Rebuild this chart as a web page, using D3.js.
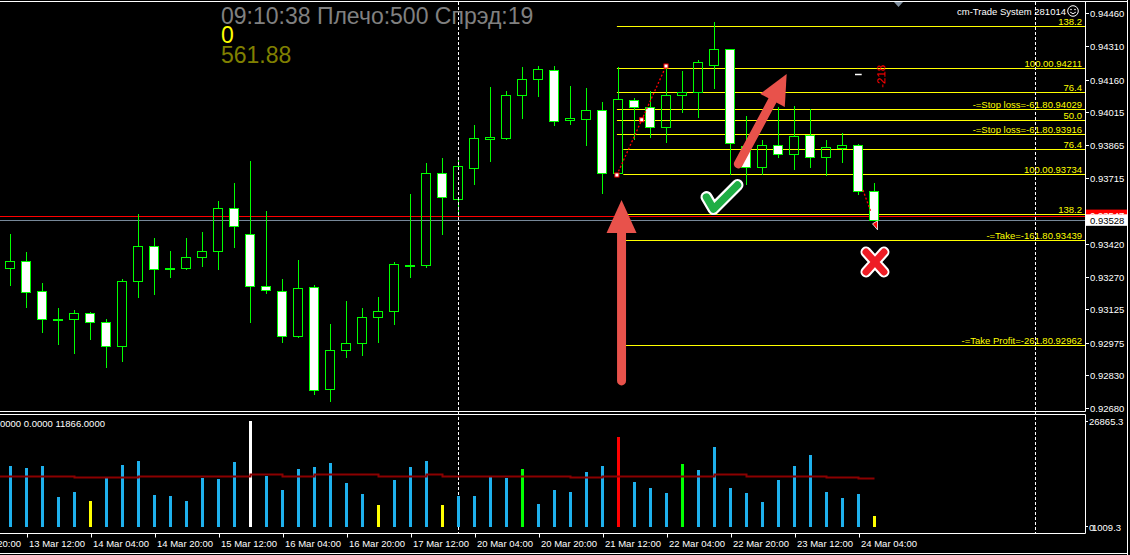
<!DOCTYPE html>
<html><head><meta charset="utf-8">
<script src="https://cdn.jsdelivr.net/npm/d3@7"></script>
<style>
html,body{margin:0;padding:0;background:#000;overflow:hidden}
svg{display:block}
text{font-family:"Liberation Sans",Arial,sans-serif}
</style>
</head><body>
<svg id="c" width="1130" height="555"></svg>
<script>
// ---------------- DATA ----------------
const opens = [0.93310,0.93341,0.93206,0.93079,0.93080,0.93107,0.93066,0.92958,0.93251,0.93409,
0.93310,0.93310,0.93359,0.93386,0.93580,0.93463,0.93229,0.93206,0.93006,0.93224,
0.92764,0.92940,0.92975,0.93089,0.93115,0.93325,0.93326,0.93738,0.93623,0.93763,
0.93891,0.93898,0.94089,0.94161,0.94202,0.93977,0.93984,0.94022,0.93738,0.94067,
0.94035,0.93945,0.94089,0.94103,0.94224,0.94296,0.93862,0.93767,0.93864,0.93823,
0.93909,0.93810,0.93850,0.93864,0.93657];
const highs = [0.93464,0.93383,0.93243,0.93131,0.93122,0.93111,0.93081,0.93260,0.93554,0.93446,
0.93388,0.93446,0.93473,0.93613,0.93694,0.93793,0.93568,0.93261,0.93347,0.93234,
0.93059,0.93162,0.93131,0.93180,0.93338,0.93644,0.93783,0.93807,0.93801,0.93955,
0.94127,0.94109,0.94217,0.94221,0.94221,0.94131,0.94122,0.94058,0.94215,0.94076,
0.94107,0.94221,0.94199,0.94248,0.94419,0.94296,0.93996,0.93888,0.94038,0.94040,
0.94029,0.93888,0.93918,0.93868,0.93694];
const lows = [0.93236,0.93137,0.93024,0.92970,0.92929,0.92992,0.92866,0.92893,0.93182,0.93195,
0.93272,0.93305,0.93321,0.93308,0.93407,0.93069,0.93200,0.92979,0.93001,0.92742,
0.92713,0.92911,0.92918,0.92979,0.93060,0.93272,0.93317,0.93466,0.93551,0.93691,
0.93795,0.93894,0.93988,0.94087,0.93957,0.93961,0.93867,0.93650,0.93727,0.93892,
0.93903,0.93880,0.94015,0.93993,0.94123,0.93733,0.93688,0.93733,0.93813,0.93756,
0.93765,0.93729,0.93790,0.93643,0.93526];
const closes = [0.93341,0.93202,0.93080,0.93078,0.93107,0.93066,0.92958,0.93251,0.93409,0.93305,
0.93310,0.93359,0.93386,0.93580,0.93499,0.93229,0.93211,0.93003,0.93220,0.92761,
0.92940,0.92975,0.93089,0.93115,0.93328,0.93326,0.93738,0.93630,0.93769,0.93895,
0.93900,0.94089,0.94161,0.94206,0.93972,0.93986,0.94022,0.93738,0.94071,0.94035,
0.93945,0.94089,0.94103,0.94238,0.94296,0.93873,0.93767,0.93864,0.93823,0.93904,
0.93810,0.93855,0.93864,0.93657,0.93528];

const volumes = [15460,14950,15460,7600,8870,6590,12420,15710,16730,8110,
7860,6590,12420,12170,16470,26865,12930,9380,14700,15210,
16220,11150,8360,5580,11910,15210,16730,5580,7860,7860,
12670,12420,14700,5830,9380,8870,13940,15460,22810,11410,
9880,8620,15970,14450,20280,9880,8620,6340,11910,15460,
18250,8870,7350,8360,2790];
// b = blue, y = yellow, w = white, g = green, r = red
const volumeKinds = "bbbbbybbbbbbbbbwbbbbbbbybbbybbbbgbbbbbrbbbgbbbbbbbbbbby";
const volumeMA = [13000,13000,13000,13000,12750,12750,12750,12750,13000,13000,
13000,13000,13000,13000,13000,13360,13360,13000,13000,13360,
13360,13360,13360,13000,13000,13000,13360,13000,13000,13000,
13000,13000,13000,13000,13000,12750,12750,13000,13000,13000,
13000,13000,13000,13000,13360,13360,13000,13000,13000,13000,
13000,12750,12750,12500,12500];

const priceTicks = [0.94460,0.94310,0.94160,0.94015,0.93865,0.93715,0.93565,0.93420,0.93270,0.93125,0.92975,0.92830,0.92680];
const timeTickIndex = [-3,1,5,9,13,17,21,25,29,33,37,41,45,49,53];
const timeTickLabels = ["12 Mar 20:00","13 Mar 12:00","14 Mar 04:00","14 Mar 20:00","15 Mar 12:00","16 Mar 04:00","16 Mar 20:00","17 Mar 12:00","20 Mar 04:00","20 Mar 20:00","21 Mar 12:00","22 Mar 04:00","22 Mar 20:00","23 Mar 12:00","24 Mar 04:00"];

const fibPrices = [0.94401,0.94211,0.94103,0.94029,0.93977,0.93916,0.93846,0.93734,0.93554,0.93439,0.92962];
const fibLabels = ["138.2","100.00.94211","76.4","-=Stop loss=-61.80.94029","50.0","-=Stop loss=-61.80.93916","76.4","100.00.93734","138.2","-=Take=-161.80.93439","-=Take Profit=-261.80.92962"];
const fibStart = [37.9,37.9,37.9,37.9,37.9,37.9,38.3,38.3,38.3,38.3,38.3];

const askPrice = 0.93547, bidPrice = 0.93528;
const separatorIndex = [28, 64];
const zigzag1 = [[37.9,0.93730],[40.97,0.94221]];
const zigzag2 = [[53.28,0.93662],[53.78,0.93563]];

// ---------------- SETUP ----------------
const svg = d3.select('#c');
svg.append('rect').attr('width',1130).attr('height',555).attr('fill','#000');

const x = d3.scaleLinear().domain([0,54]).range([10.5,874.5]);
const y = d3.scaleLinear().domain([0.92680,0.94460]).range([408,13]);
const yv = d3.scaleLinear().domain([0,26865.3]).range([527,421]);
const snap = v => Math.round(v) + 0.5;
const PR = 1085.5;
const FS = '9.5px';

const main = svg.append('g');
svg.append('clipPath').attr('id','cm').append('rect').attr('x',0).attr('y',2).attr('width',1085).attr('height',409);

// separators (dashed)
separatorIndex.forEach(i=>{
  const xx = snap(x(i));
  svg.append('line').attr('x1',xx).attr('x2',xx).attr('y1',2).attr('y2',533)
    .attr('stroke','#fff').attr('stroke-dasharray','3,2');
});

// fib lines
fibPrices.forEach((p,k)=>{
  const yy = snap(y(p));
  main.append('line').attr('x1',x(fibStart[k])).attr('x2',PR).attr('y1',yy).attr('y2',yy)
    .attr('stroke','#ffff00');
  main.append('text').attr('x',1082).attr('y',yy-2).attr('text-anchor','end')
    .attr('fill','#ffff00').style('font-size',FS).text(fibLabels[k]);
});

// ask / bid lines
[[askPrice,'#ff0000'],[bidPrice,'#778899']].forEach(([p,c])=>{
  const yy = snap(y(p));
  main.append('line').attr('x1',0).attr('x2',PR).attr('y1',yy).attr('y2',yy).attr('stroke',c);
});

// candles
const cg = main.append('g').attr('clip-path','url(#cm)');
opens.forEach((o,i)=>{
  const c = closes[i];
  const cx = x(i);
  const top = snap(y(Math.max(o,c)));
  const bot = snap(y(Math.min(o,c)));
  const hy = snap(y(highs[i])), ly = snap(y(lows[i]));
  if (hy < top) cg.append('line').attr('x1',cx).attr('x2',cx).attr('y1',hy-0.5).attr('y2',top).attr('stroke','#00ff00');
  if (ly > bot) cg.append('line').attr('x1',cx).attr('x2',cx).attr('y1',bot).attr('y2',ly+0.5).attr('stroke','#00ff00');
  const bear = c < o;
  cg.append('rect').attr('x',cx-5).attr('y',top).attr('width',9).attr('height',Math.max(bot-top,1))
    .attr('fill', bear ? '#ffffff' : 'none').attr('stroke','#00ff00');
});

// zigzag dotted lines
[zigzag1, zigzag2].forEach(z=>{
  main.append('path').attr('d', d3.line().x(d=>x(d[0])).y(d=>y(d[1]))(z))
    .attr('stroke','#ff0000').attr('stroke-width',1.3).attr('stroke-dasharray','2,2').attr('fill','none');
});
[[zigzag1[0][0],zigzag1[0][1]],[zigzag1[1][0],zigzag1[1][1]],[39.45,0.93979]].forEach(d=>{
  main.append('rect').attr('x',x(d[0])-2).attr('y',y(d[1])-2).attr('width',4).attr('height',4)
    .attr('fill','#fff').attr('stroke','#ff0000');
});
main.append('path').attr('d',`M${x(54.0)-2},${y(0.93510)} l5,-3 l0,9 z`).attr('fill','#ff0000').attr('stroke','#fff').attr('stroke-width',0.8);

// red "-218"
const lx = x(54.4), ly0 = y(0.94175);
main.append('text').attr('transform',`translate(${lx+4},${ly0}) rotate(-90)`).attr('text-anchor','middle')
  .attr('fill','#ff0000').style('font-size','11.5px').text('-218');
main.append('line').attr('x1',x(52.78)).attr('x2',x(53.2)).attr('y1',snap(y(0.94185))).attr('y2',snap(y(0.94185)))
  .attr('stroke','#fff').attr('stroke-width',1.5);

// shift marker
svg.append('path').attr('d','M894,2 L903,2 L898.5,7 Z').attr('fill','#8090a0');

// ---------------- ANNOTATIONS ----------------
const ARC = '#e8524b';
// up arrow
(function(){
  const ax = x(38.19), tipY = y(0.93617), baseY = tipY+33, botY = y(0.92784);
  const g = main.append('g');
  g.append('line').attr('x1',ax).attr('x2',ax).attr('y1',baseY-2).attr('y2',botY-4)
    .attr('stroke',ARC).attr('stroke-width',9).attr('stroke-linecap','round');
  g.append('path').attr('d',`M${ax},${tipY} L${ax-15},${baseY} L${ax+15},${baseY} Z`).attr('fill',ARC);
})();
// diagonal arrow
(function(){
  const tx = x(45.49), ty = y(0.93780), hx = x(48.51), hy = y(0.94185);
  const dx = hx-tx, dy = hy-ty, L = Math.hypot(dx,dy), ux = dx/L, uy = dy/L;
  const bx = hx-30*ux, by = hy-30*uy, px = -uy, py = ux;
  const g = main.append('g');
  g.append('line').attr('x1',tx).attr('y1',ty).attr('x2',bx+2*ux).attr('y2',by+2*uy)
    .attr('stroke',ARC).attr('stroke-width',9).attr('stroke-linecap','round');
  g.append('path').attr('d',`M${hx},${hy} L${bx+14*px},${by+14*py} L${bx-14*px},${by-14*py} Z`).attr('fill',ARC);
})();
// check mark
(function(){
  const cx = x(44.5), cy = y(0.93626);
  const d = `M${cx-16},${cy-1} L${cx-9},${cy+11} L${cx+15},${cy-13}`;
  main.append('path').attr('d',d).attr('fill','none').attr('stroke','#fff').attr('stroke-width',12)
    .attr('stroke-linecap','round').attr('stroke-linejoin','round');
  main.append('path').attr('d',d).attr('fill','none').attr('stroke','#1fae45').attr('stroke-width',7.5)
    .attr('stroke-linecap','round').attr('stroke-linejoin','round');
})();
// cross mark
(function(){
  const cx = x(54.03), cy = y(0.93338);
  const d = `M${cx-9},${cy-10} L${cx+9},${cy+10} M${cx+9},${cy-10} L${cx-9},${cy+10}`;
  main.append('path').attr('d',d).attr('stroke','#fff').attr('stroke-width',11).attr('stroke-linecap','round');
  main.append('path').attr('d',d).attr('stroke','#ee1c25').attr('stroke-width',7).attr('stroke-linecap','round');
})();

// ---------------- TEXT OVERLAYS ----------------
svg.append('text').attr('x',221).attr('y',23.5).attr('fill','#808080').style('font-size','23px').text('09:10:38 Плечо:500 Спрэд:19');
svg.append('text').attr('x',221).attr('y',42.7).attr('fill','#ffff00').style('font-size','23px').text('0');
svg.append('text').attr('x',221).attr('y',62.7).attr('fill','#808000').style('font-size','23px').text('561.88');

svg.append('text').attr('x',1066).attr('y',15).attr('text-anchor','end').attr('fill','#fff').style('font-size',FS).text('cm-Trade System 281014');
(function(){
  const g = svg.append('g').attr('transform','translate(1073,11)');
  g.append('circle').attr('r',5.3).attr('fill','none').attr('stroke','#fff');
  g.append('circle').attr('cx',-2).attr('cy',-1.5).attr('r',0.8).attr('fill','#fff');
  g.append('circle').attr('cx',2).attr('cy',-1.5).attr('r',0.8).attr('fill','#fff');
  g.append('path').attr('d','M-2.8,1.2 Q0,4.2 2.8,1.2').attr('fill','none').attr('stroke','#fff');
})();

// ---------------- PRICE AXIS ----------------
priceTicks.forEach(p=>{
  const yy = snap(y(p));
  svg.append('line').attr('x1',PR).attr('x2',1089).attr('y1',yy).attr('y2',yy).attr('stroke','#fff');
  svg.append('text').attr('x',1090).attr('y',yy+3.5).attr('fill','#fff').style('font-size',FS).text(p.toFixed(5));
});
// ask label (red) and bid label (white)
(function(){
  const ya = y(askPrice), yb = y(bidPrice);
  svg.append('rect').attr('x',1086).attr('y',ya-6).attr('width',41).attr('height',11).attr('fill','#ff0000');
  svg.append('text').attr('x',1090).attr('y',ya+3.5).attr('fill','#fff').style('font-size',FS).text(askPrice.toFixed(5));
  svg.append('rect').attr('x',1086).attr('y',yb-5.5).attr('width',41).attr('height',11.5).attr('fill','#ffffff');
  svg.append('text').attr('x',1090).attr('y',yb+4).attr('fill','#000').style('font-size',FS).text(bidPrice.toFixed(5));
})();

// ---------------- VOLUME PANE ----------------
const kindColor = {b:'#1eb0ec', y:'#ffff00', w:'#ffffff', g:'#00ff00', r:'#ff0000'};
volumes.forEach((v,i)=>{
  const top = Math.round(yv(v));
  svg.append('rect').attr('x',x(i)-1.5).attr('y',top).attr('width',3).attr('height',527-top)
    .attr('fill',kindColor[volumeKinds[i]]);
});
svg.append('clipPath').attr('id','cv').append('rect').attr('x',0).attr('y',415).attr('width',1085).attr('height',118);
const maData = volumeMA.map((v,i)=>[i,v]);
maData.unshift([-1, volumeMA[0]]);
svg.append('path').attr('clip-path','url(#cv)')
  .attr('d', d3.line().curve(d3.curveStepAfter).x(d=>x(d[0])).y(d=>snap(yv(d[1])))(maData))
  .attr('fill','none').attr('stroke','#8b0000').attr('stroke-width',2);
svg.append('text').attr('x',0).attr('y',426.5).attr('fill','#fff').style('font-size',FS).text('0000 0.0000 11866.0000');

// volume axis
[[26865.3,'26865.3']].forEach(([v,t])=>{
  const yy = snap(yv(v));
  svg.append('line').attr('x1',PR).attr('x2',1088).attr('y1',yy).attr('y2',yy).attr('stroke','#fff');
  svg.append('text').attr('x',1089).attr('y',yy+3.5).attr('fill','#fff').style('font-size',FS).text(t);
});
svg.append('line').attr('x1',PR).attr('x2',1088).attr('y1',526.5).attr('y2',526.5).attr('stroke','#fff');
svg.append('text').attr('x',1089).attr('y',530.5).attr('fill','#fff').style('font-size',FS).text('0');
svg.append('text').attr('x',1092).attr('y',530.5).attr('fill','#fff').style('font-size',FS).text('1009.3');

// ---------------- TIME AXIS ----------------
timeTickIndex.forEach((ti,k)=>{
  const xx = snap(x(ti));
  svg.append('line').attr('x1',xx).attr('x2',xx).attr('y1',533.5).attr('y2',537.5).attr('stroke','#fff');
  svg.append('text').attr('x',xx+1.5).attr('y',546.5).attr('fill','#fff').style('font-size',FS).text(timeTickLabels[k]);
});

// ---------------- FRAMES ----------------
const frame = (x1,y1,x2,y2)=>svg.append('line').attr('x1',x1).attr('y1',y1).attr('x2',x2).attr('y2',y2).attr('stroke','#fff');
frame(0,1.5,1128,1.5);
frame(PR,1.5,PR,411.5);
frame(0,411.5,PR,411.5);
frame(0,414.5,PR,414.5);
frame(PR,414.5,PR,533.5);
frame(0,533.5,PR,533.5);
frame(1127.5,0,1127.5,555);
frame(0,553.5,1128,553.5);
</script>
</body></html>
